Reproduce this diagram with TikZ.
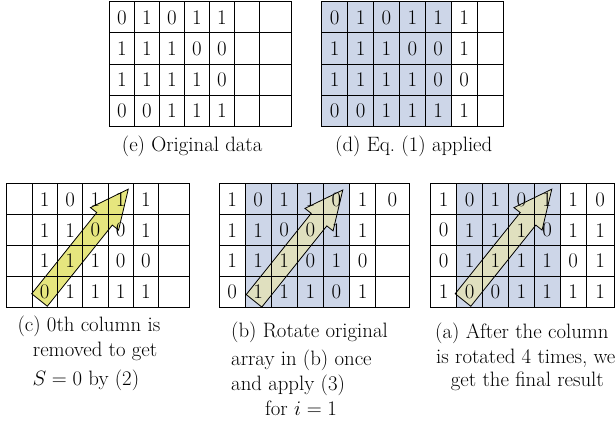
\documentclass[tikz,border=0pt]{standalone}
\usepackage{xcolor}
\usepackage{tikz}
\definecolor{cellblue}{RGB}{205,214,232}
\definecolor{arrowyellow}{RGB}{214,214,40}
\definecolor{arrowpale}{RGB}{238,232,165}
\newcommand{\capfont}{\fontsize{20.8}{25}\selectfont}
\tikzset{
  bit/.style={inner sep=0pt, font=\capfont},
  captxt/.style={anchor=base west, inner sep=0pt, font=\capfont},
  gridline/.style={line width=1pt, line cap=rect},
  tilt arrow/.pic={\path[pic actions] (0,-10) -- (104,-10) -- (104,-18) -- (142,0)
                     -- (104,18) -- (104,10) -- (0,10) -- cycle;},
  arrowfill/.style={fill opacity=.6, rotate=51.3},
  arrowline/.style={draw, line width=.8pt, line join=miter, rotate=51.3}
}
% name, scope options, right edge, first column, rows of bits
\newcommand{\bitgrid}[5]{%
  \begin{scope}[#2]
    \foreach \i in {0,...,6} \draw[gridline] (\i,0) -- (\i,4);
    \draw[gridline] (#3,0) -- (#3,4);
    \foreach \j in {0,...,4} \draw[gridline] (0,\j) -- (#3,\j);
    \foreach \bits [count=\r] in {#5}
      \foreach \b [count=\c from #4] in \bits {
        \pgfmathsetmacro{\cx}{\c<7 ? \c-0.5 : (6+#3)/2}
        \node[bit] (#1-\r-\c) at (\cx,\r-0.5) {\b};
      }
  \end{scope}
}

\begin{document}
\begin{tikzpicture}[x=1pt, y=-1pt]
  \useasboundingbox (0,0) rectangle (615,430);

  % (e) original data
  \bitgrid{e}{shift={(109.3,1.7)}, x=25pt, y=-31.25pt}{7.268}{1}%
    {{0,1,0,1,1},{1,1,1,0,0},{1,1,1,1,0},{0,0,1,1,1}}
  \node[captxt] (cap-e) at (121.7,152) {(e) Original data};

  % (d) Eq. (1) applied
  \fill[cellblue] (321.7,1.7) rectangle (451.2,126.7);
  \bitgrid{d}{shift={(321.7,1.7)}, x=25.9pt, y=-31.25pt}{7.027}{1}%
    {{0,1,0,1,1,1},{1,1,1,0,0,1},{1,1,1,1,0,0},{0,0,1,1,1,1}}
  \node[captxt] (cap-d) at (335,152) {(d) Eq.\ (1) applied};

  % (c) 0th column removed
  \pic[arrowfill, fill=arrowyellow] at (39.5,300) {tilt arrow};
  \bitgrid{c}{shift={(6.7,184)}, x=25.33pt, y=-30.8pt}{7.197}{2}%
    {{1,0,1,1,1},{1,1,0,0,1},{1,1,1,0,0},{0,1,1,1,1}}
  \pic[arrowline] at (39.5,300) {tilt arrow};
  \node[captxt] (cap-c1) at (17.3,331.7) {(c) 0th column is};
  \node[captxt] (cap-c2) at (32.7,356.7) {removed to get};
  \node[captxt] (cap-c3) at (32.3,385) {$S = 0$ by (2)};

  % (b) rotate once
  \fill[cellblue] (245.1,184) rectangle (349.5,307.2);
  \pic[arrowfill, fill=arrowpale] at (254,300.8) {tilt arrow};
  \bitgrid{b}{shift={(219,184)}, x=26.1pt, y=-30.8pt}{7.28}{1}%
    {{1,0,1,1,0,1,0},{1,1,0,0,1,1},{1,1,1,0,1,0},{0,1,1,1,0,1}}
  \pic[arrowline] at (254,300.8) {tilt arrow};
  \node[captxt] (cap-b1) at (231,337.3) {(b) Rotate original};
  \node[captxt] (cap-b2) at (231,365) {array in (b) once};
  \node[captxt] (cap-b3) at (231,390) {and apply (3)};
  \node[captxt] (cap-b4) at (265,415) {for $i = 1$};

  % (a) final result
  \fill[cellblue] (456.6,184) rectangle (560.2,307.2);
  \pic[arrowfill, fill=arrowpale] at (463,300) {tilt arrow};
  \bitgrid{a}{shift={(430.7,184)}, x=25.9pt, y=-30.8pt}{7.077}{1}%
    {{1,0,1,0,1,1,0},{0,1,1,1,0,1,1},{0,1,1,1,1,0,1},{1,0,0,1,1,1,1}}
  \pic[arrowline] at (463,300) {tilt arrow};
  \node[captxt] (cap-a1) at (435,338.3) {(a) After the column};
  \node[captxt] (cap-a2) at (436,363.3) {is rotated 4 times, we};
  \node[captxt] (cap-a3) at (450.7,386.7) {get the final result};
\end{tikzpicture}
\end{document}
